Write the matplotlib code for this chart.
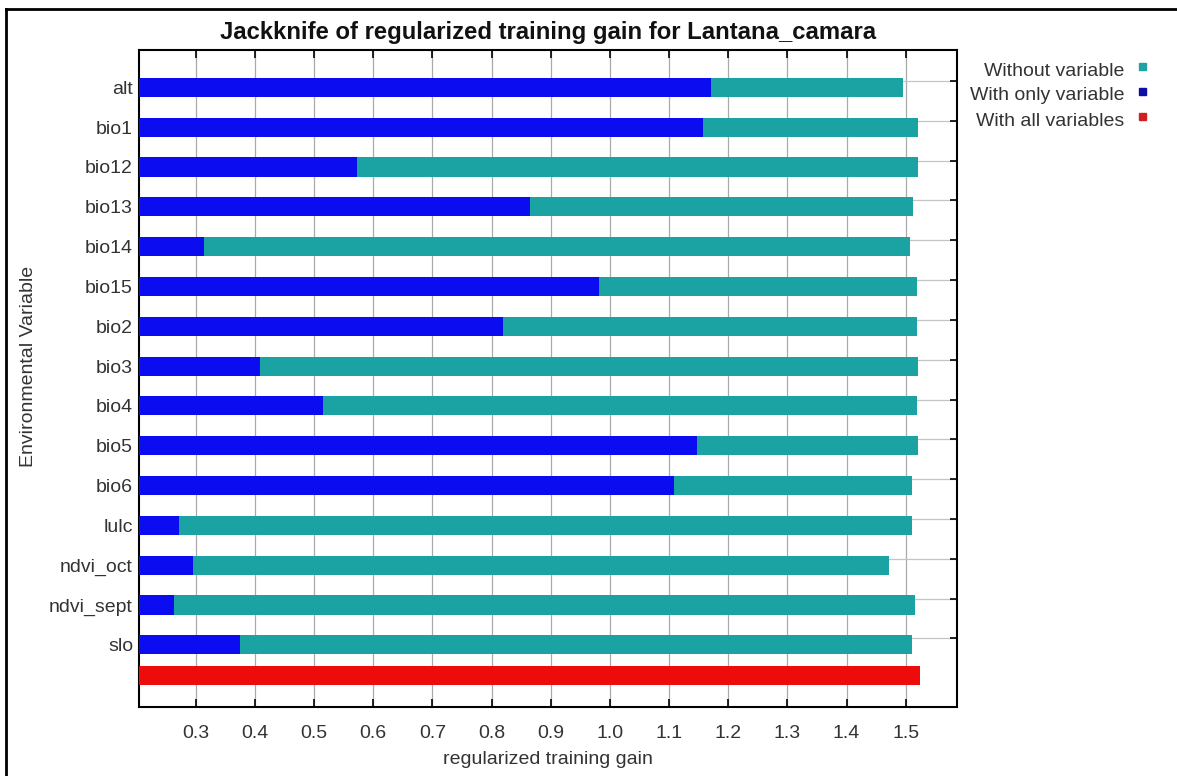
import numpy as np
import matplotlib
matplotlib.use("Agg")
import matplotlib.pyplot as plt
from matplotlib.lines import Line2D
from matplotlib.patches import Rectangle

# ---------------- data ----------------
variables = ["alt", "bio1", "bio12", "bio13", "bio14", "bio15", "bio2", "bio3",
             "bio4", "bio5", "bio6", "lulc", "ndvi_oct", "ndvi_sept", "slo"]
gain_without = [1.496, 1.521, 1.521, 1.513, 1.507, 1.519, 1.519, 1.521,
                1.519, 1.521, 1.511, 1.511, 1.472, 1.516, 1.511]
gain_only = [1.171, 1.157, 0.573, 0.865, 0.314, 0.982, 0.819, 0.409,
             0.515, 1.147, 1.108, 0.271, 0.295, 0.264, 0.375]
gain_all = 1.524
xtick_values = [0.3, 0.4, 0.5, 0.6, 0.7, 0.8, 0.9, 1.0, 1.1, 1.2, 1.3, 1.4, 1.5]
xtick_labels = ["0.3", "0.4", "0.5", "0.6", "0.7", "0.8", "0.9", "1.0",
                "1.1", "1.2", "1.3", "1.4", "1.5"]
legend_labels = ["Without variable", "With only variable", "With all variables"]
title = "Jackknife of regularized training gain for Lantana_camara"
xlabel = "regularized training gain"
ylabel = "Environmental Variable"

# ---------------- style ----------------
TEAL = "#1ba2a2"
BLUE = "#0c0cf0"
RED = "#ee0b0b"
LEG_COLORS = ["#22a3a3", "#0e0ea6", "#d21e1e"]
TXT = "#333333"

plt.rcParams["font.family"] = ["Liberation Sans", "DejaVu Sans"]

W, H = 1177, 776
fig = plt.figure(figsize=(W / 100, H / 100), dpi=100)
fig.patch.set_facecolor("white")

ax_l, ax_r, ax_t, ax_b = 139.3, 957.0, 50.3, 707.3
ax = fig.add_axes([ax_l / W, 1 - ax_b / H, (ax_r - ax_l) / W, (ax_b - ax_t) / H])

xmin, xmax = 0.2047, 1.5867
n = len(variables)
cat = np.arange(n)
bar_pos = cat + 0.16
all_pos = n - 0.07

ax.barh(bar_pos, np.array(gain_without) - xmin, left=xmin, height=0.48,
        color=TEAL, zorder=2)
ax.barh(bar_pos, np.array(gain_only) - xmin, left=xmin, height=0.48,
        color=BLUE, zorder=3)
ax.barh([all_pos], [gain_all - xmin], left=xmin, height=0.48,
        color=RED, zorder=3)

ax.set_xlim(xmin, xmax)
ax.set_ylim(15.73, -0.77)

ax.set_xticks(xtick_values, xtick_labels)
ax.set_yticks(bar_pos, variables)
ax.set_yticks(cat, minor=True)

ax.grid(axis="x", which="major", color="#aaaaaa", lw=0.9, zorder=0)
ax.grid(axis="y", which="minor", color="#c4c4c4", lw=0.9, zorder=0)
ax.set_axisbelow(True)

ax.tick_params(axis="x", which="major", direction="in", top=True, bottom=True,
               length=6, width=1.2, color="black", labelsize=14,
               labelcolor=TXT, pad=12.5)
ax.tick_params(axis="y", which="major", left=False, right=False, length=0,
               labelsize=14, labelcolor=TXT, pad=4.5)
ax.tick_params(axis="y", which="minor", left=False, right=True,
               direction="in", length=5, width=1.2, color="black")

for s in ax.spines.values():
    s.set_linewidth(1.5)
    s.set_color("black")

ax.set_xlabel(xlabel, fontsize=14, color=TXT, labelpad=7)
fig.text(29 / W, 1 - 366 / H, ylabel, rotation=90, ha="center", va="center",
         fontsize=14, color=TXT)

fig.text((ax_l + ax_r) / 2 / W, 1 - 32 / H, title, ha="center", va="center",
         fontsize=17.2, fontweight="bold", color="#111111")

# legend
leg_base = [75.7, 100.5, 126.0]
for lab, col, yb in zip(legend_labels, LEG_COLORS, leg_base):
    fig.text(1124 / W, 1 - yb / H, lab, ha="right", va="baseline",
             fontsize=14, color=TXT)
    fig.add_artist(Rectangle((1139 / W, 1 - (yb - 6) / H), 7 / W, 7 / H,
                             transform=fig.transFigure, color=col,
                             clip_on=False))

# outer frame (top and left edges visible)
fig.add_artist(Line2D([6 / W, 6 / W], [0, 1 - 8.5 / H], transform=fig.transFigure,
                      color="black", lw=2))
fig.add_artist(Line2D([6 / W, 1], [1 - 8.5 / H, 1 - 8.5 / H],
                      transform=fig.transFigure, color="black", lw=2))

fig.savefig("out.png", dpi=100)
